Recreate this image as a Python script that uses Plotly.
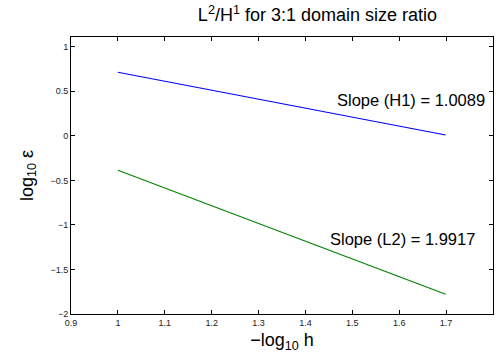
import plotly.graph_objects as go

neg_log_h = [1.0, 1.301, 1.602, 1.699]
log_err_h1 = [0.715, 0.411, 0.108, 0.010]
log_err_l2 = [-0.387, -0.987, -1.586, -1.779]

x_ticks = [0.9, 1.0, 1.1, 1.2, 1.3, 1.4, 1.5, 1.6, 1.7, 1.8]
x_labels = ["0.9", "1", "1.1", "1.2", "1.3", "1.4", "1.5", "1.6", "1.7", "1.8"]
y_ticks = [-2, -1.5, -1, -0.5, 0, 0.5, 1]
y_labels = ["\u22122", "\u22121.5", "\u22121", "\u22120.5", "0", "0.5", "1"]

FONT = "Liberation Sans, Arial, sans-serif"

fig = go.Figure()
fig.add_trace(go.Scatter(x=neg_log_h, y=log_err_h1, mode="lines",
                         line=dict(color="#0000ff", width=1.1), showlegend=False))
fig.add_trace(go.Scatter(x=neg_log_h, y=log_err_l2, mode="lines",
                         line=dict(color="#008000", width=1.1), showlegend=False))

fig.add_annotation(x=1.462, y=0.407, text="Slope (H1) = 1.0089", showarrow=False,
                   xanchor="left", yanchor="middle", font=dict(size=16.5, color="black", family=FONT))
fig.add_annotation(x=1.449, y=-1.156, text="Slope (L2) = 1.9917", showarrow=False,
                   xanchor="left", yanchor="middle", font=dict(size=16.5, color="black", family=FONT))

axis_common = dict(showline=True, linecolor="black", linewidth=1, mirror="ticks",
                   ticks="inside", ticklen=4, tickcolor="black", showgrid=False,
                   zeroline=False, tickfont=dict(size=9, color="#222", family=FONT))

fig.update_xaxes(range=[0.9, 1.8], tickvals=x_ticks, ticktext=x_labels,
                 title=dict(text="\u2212log<sub>10</sub> h", font=dict(size=18, color="black", family=FONT), standoff=6),
                 **axis_common)
fig.update_yaxes(range=[-2, 1.11], tickvals=y_ticks, ticktext=y_labels,
                 title=dict(text="log<sub>10</sub> \u03b5", font=dict(size=18, color="black", family=FONT), standoff=12),
                 **axis_common)

fig.update_layout(
    width=496, height=360,
    margin=dict(l=71, r=3, t=37, b=46),
    paper_bgcolor="white", plot_bgcolor="white",
    title=dict(text="L<sup>2</sup>/H<sup>1</sup> for 3:1 domain size ratio",
               x=0.64, xref="container", xanchor="center", y=0.958, yanchor="middle",
               font=dict(size=18, color="black", family=FONT)),
)

fig.write_html("out.html")
